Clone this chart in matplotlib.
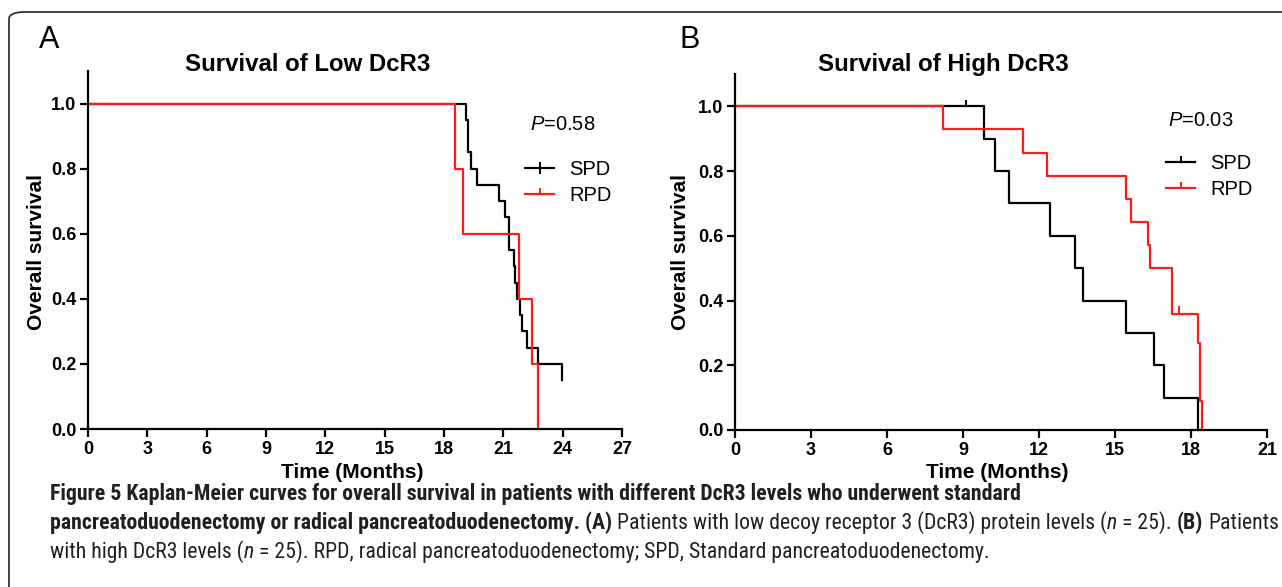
import matplotlib
matplotlib.use('Agg')
import matplotlib.pyplot as plt
from matplotlib.lines import Line2D
from matplotlib.patches import FancyBboxPatch
from matplotlib import font_manager

# ---- data ----
low_spd_t = [0, 19.10, 19.19, 19.39, 19.65, 20.80, 21.06, 21.28, 21.53, 21.60, 21.70, 21.86, 21.96, 22.21, 22.76, 23.98]
low_spd_s = [1.0, 0.95, 0.85, 0.80, 0.75, 0.70, 0.65, 0.55, 0.50, 0.45, 0.40, 0.35, 0.30, 0.25, 0.20, 0.15]
low_rpd_t = [0, 18.55, 18.94, 21.79, 22.47, 22.76]
low_rpd_s = [1.0, 0.80, 0.60, 0.40, 0.20, 0.0]

high_spd_t = [0, 9.84, 10.25, 10.83, 12.42, 13.44, 13.72, 15.43, 16.53, 16.93, 18.26]
high_spd_s = [1.0, 0.90, 0.80, 0.70, 0.60, 0.50, 0.40, 0.30, 0.20, 0.10, 0.0]
high_rpd_t = [0, 8.21, 11.35, 12.31, 15.43, 15.63, 16.32, 16.39, 17.26, 18.26, 18.34, 18.45]
high_rpd_s = [1.0, 0.929, 0.857, 0.786, 0.714, 0.643, 0.571, 0.500, 0.357, 0.268, 0.089, 0.0]

# censored observations
high_spd_cens_t = [9.10]
high_spd_cens_s = [1.0]
high_rpd_cens_t = [17.54]
high_rpd_cens_s = [0.357]

xticks_low = [0, 3, 6, 9, 12, 15, 18, 21, 24, 27]
xticks_high = [0, 3, 6, 9, 12, 15, 18, 21]
yticks = [0.0, 0.2, 0.4, 0.6, 0.8, 1.0]
ytick_labels = ['0.0', '0.2', '0.4', '0.6', '0.8', '1.0']

RED = '#ff1a1a'
W, H = 1282, 587

avail = {f.name for f in font_manager.fontManager.ttflist}
CHART_FONT = 'Liberation Sans'
CAP_FONT = 'Lato'
for f in ['Roboto Condensed', 'Open Sans Condensed', 'Liberation Sans Narrow', 'Lato']:
    if f in avail:
        CAP_FONT = f
        break

plt.rcParams['font.family'] = [CHART_FONT, 'DejaVu Sans']
plt.rcParams['mathtext.fontset'] = 'custom'
plt.rcParams['mathtext.it'] = CHART_FONT + ':italic'
plt.rcParams['mathtext.rm'] = CHART_FONT


def fx(px):
    return px / W


def fy(py):
    return 1 - py / H


up_tick = [(0, 0), (0, 1)]

fig = plt.figure(figsize=(W / 100, H / 100), dpi=100)

# rounded frame round the figure
frame = FancyBboxPatch((fx(9), fy(640)), fx(1400), fy(12) - fy(640),
                       boxstyle='round,pad=0,rounding_size=0.012',
                       transform=fig.transFigure, fill=False,
                       ec='#333333', lw=1.3)
fig.patches.append(frame)

# axes placed in pixels: (left, right, y of 0, y of ylim top)
axA = fig.add_axes([fx(88), fy(429), fx(622) - fx(88), fy(71) - fy(429)])
axB = fig.add_axes([fx(735), fy(430), fx(1267) - fx(735), fy(74) - fy(430)])


def style_axes(ax, xt):
    ax.set_xlim(0, xt[-1])
    ax.set_ylim(0, 1.1)
    for s in ['top', 'right']:
        ax.spines[s].set_visible(False)
    for s in ['left', 'bottom']:
        ax.spines[s].set_linewidth(1.6)
    ax.set_xticks(xt)
    ax.set_xticklabels([str(v) for v in xt], fontweight='bold', fontsize=13)
    ax.set_yticks(yticks)
    ax.set_yticklabels(ytick_labels, fontweight='bold', fontsize=13)
    ax.tick_params(direction='out', length=5.5, width=1.6, pad=3)


style_axes(axA, xticks_low)
style_axes(axB, xticks_high)

# panel A
axA.step(low_spd_t, low_spd_s, where='post', color='black', lw=1.6, clip_on=False)
axA.step(low_rpd_t, low_rpd_s, where='post', color=RED, lw=1.6, clip_on=False)

# panel B
axB.step(high_spd_t, high_spd_s, where='post', color='black', lw=1.6, clip_on=False)
axB.step(high_rpd_t, high_rpd_s, where='post', color=RED, lw=1.6, clip_on=False)
axB.plot(high_spd_cens_t, high_spd_cens_s, ls='none', marker=up_tick, ms=9,
         mew=1.4, color='black', clip_on=False)
axB.plot(high_rpd_cens_t, high_rpd_cens_s, ls='none', marker=up_tick, ms=12,
         mew=1.4, color=RED, clip_on=False)


def ax_xy(ax, px, py):
    # pixel position -> axes fraction
    p = ax.get_position()
    return ((px - p.x0 * W) / (p.width * W), ((1 - p.y0) * H - py) / (p.height * H))


titles = ['Survival of Low DcR3', 'Survival of High DcR3']
pvals = ['0.58', '0.03']
for ax, title, tpx, lpx, xlpx, ppx, ppy in [(axA, titles[0], 308, 37, 352, 530, 125),
                                            (axB, titles[1], 943, 680, 997, 1168, 120)]:
    ax.text(*ax_xy(ax, tpx, 71), title, transform=ax.transAxes, ha='center',
            va='baseline', fontsize=17.3, fontweight='bold')
    ax.text(*ax_xy(ax, lpx, 252), 'Overall survival', transform=ax.transAxes,
            rotation=90, ha='center', va='center', fontsize=15, fontweight='bold')
    ax.text(*ax_xy(ax, xlpx, 473), 'Time (Months)', transform=ax.transAxes,
            ha='center', va='center', fontsize=15, fontweight='bold')
    ax.text(*ax_xy(ax, ppx, ppy), '$P$=' + pvals[0 if ax is axA else 1],
            transform=ax.transAxes, ha='left', va='center', fontsize=14.5)


# legends
def leg_handles(spd_marker):
    h1 = Line2D([], [], color='black', lw=1.6, marker=spd_marker, ms=9, mew=1.4)
    h2 = Line2D([], [], color=RED, lw=1.6, marker=up_tick, ms=9, mew=1.4)
    return [h1, h2]


for ax, mk, x0, y0 in [(axA, '|', 525, 160), (axB, up_tick, 1166, 154)]:
    ax.legend(leg_handles(mk), ['SPD', 'RPD'], loc='upper left',
              bbox_to_anchor=ax_xy(ax, x0, y0),
              frameon=False, borderpad=0, borderaxespad=0,
              handlelength=1.45, handletextpad=0.75, labelspacing=0.35,
              numpoints=1, prop={'size': 14.5, 'family': CHART_FONT})

# panel letters
fig.text(fx(49), fy(40), 'A', ha='center', va='center', fontsize=22)
fig.text(fx(690), fy(40), 'B', ha='center', va='center', fontsize=22)

# ---- caption with mixed weights ----
CAP_COLOR = '#231f20'
cap_lines = [
    [('Figure 5 Kaplan-Meier curves for overall survival in patients with different DcR3 levels who underwent standard', 'b')],
    [('pancreatoduodenectomy or radical pancreatoduodenectomy. (A)', 'b'),
     (' Patients with low decoy receptor 3 (DcR3) protein levels (', 'r'),
     ('n', 'i'), (' = 25). ', 'r'), ('(B)', 'b'), (' Patients', 'r')],
    [('with high DcR3 levels (', 'r'), ('n', 'i'),
     (' = 25). RPD, radical pancreatoduodenectomy; SPD, Standard pancreatoduodenectomy.', 'r')],
]
cap_base = [500, 529, 558]

renderer = fig.canvas.get_renderer()


def piece_kw(style, size):
    kw = dict(fontsize=size, family=[CAP_FONT, 'DejaVu Sans'], color=CAP_COLOR)
    if style == 'b':
        kw['fontweight'] = 'bold'
    if style == 'i':
        kw['fontstyle'] = 'italic'
    return kw


def text_w(s, style, size):
    if not s.strip():
        return 0
    t = fig.text(0, 0, s, **piece_kw(style, size))
    w = t.get_window_extent(renderer).width
    t.remove()
    return w


def space_w(style, size):
    return text_w('a a', style, size) - text_w('aa', style, size)


def draw_line(pieces, x0, base, size, draw=True):
    x = x0
    for s, st in pieces:
        core = s.strip()
        lead = len(s) - len(s.lstrip())
        trail = len(s) - len(s.rstrip())
        sw = space_w(st, size)
        x += lead * sw
        if draw and core:
            fig.text(fx(x), fy(base), core, ha='left', va='baseline', **piece_kw(st, size))
        x += text_w(core, st, size) + trail * sw
    return x - x0


# fit the font size so the second line spans the frame width
w10 = draw_line(cap_lines[1], 0, 0, 10, draw=False)
cap_size = 10 * 1222 / w10
for pieces, base in zip(cap_lines, cap_base):
    draw_line(pieces, 50, base, cap_size)

fig.savefig('out.png', dpi=100)
